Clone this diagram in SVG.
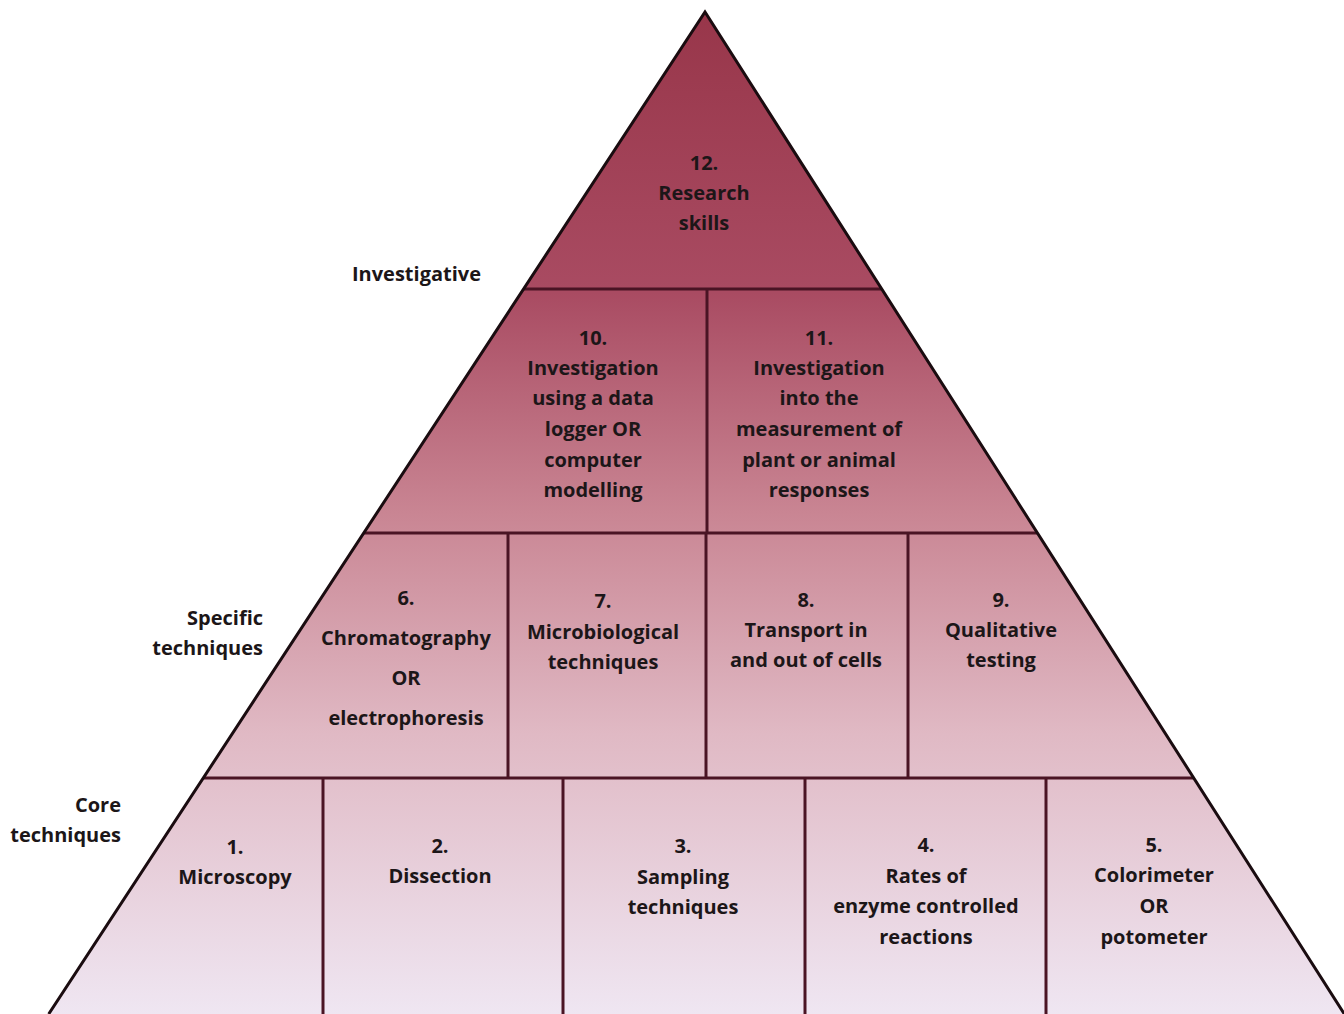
<svg xmlns="http://www.w3.org/2000/svg" width="1344" height="1014" viewBox="0 0 1344 1014">
<style>
.t{font-family:"Open Sans","Noto Sans","Liberation Sans",sans-serif;font-weight:bold;font-size:20px;fill:#1c1618;text-anchor:middle}
.lbl{font-family:"Open Sans","Noto Sans","Liberation Sans",sans-serif;font-weight:bold;font-size:20px;fill:#1c1618;text-anchor:end}
.cell{fill:url(#g);stroke:none}
.div{stroke:#4a1424;stroke-width:3;fill:none}
.edge{stroke:#1a0c10;stroke-width:3;fill:none;stroke-linejoin:miter}
</style>
<defs>
<linearGradient id="g" gradientUnits="userSpaceOnUse" x1="0" y1="12" x2="0" y2="1014">
<stop offset="0" stop-color="#98364a"/>
<stop offset="0.28" stop-color="#a94b62"/>
<stop offset="0.5" stop-color="#c98593"/>
<stop offset="0.72" stop-color="#e0b9c4"/>
<stop offset="1" stop-color="#efe6f2"/>
</linearGradient>
</defs>
<rect width="1344" height="1014" fill="#ffffff"/>

<g id="level-labels">
<text class="lbl" x="481" y="281">Investigative</text>
<text class="lbl" x="263" y="625">Specific</text>
<text class="lbl" x="263" y="655">techniques</text>
<text class="lbl" x="121" y="812">Core</text>
<text class="lbl" x="121" y="842">techniques</text>
</g>

<g id="node-12">
<polygon class="cell" points="705,12 881.7,289 523.6,289"/>
<text class="t" x="704" y="170">12.</text>
<text class="t" x="704" y="200">Research</text>
<text class="t" x="704" y="230">skills</text>
</g>

<g id="node-10">
<polygon class="cell" points="523.6,289 707,289 707,533 363.7,533"/>
<text class="t" x="593" y="345">10.</text>
<text class="t" x="593" y="375">Investigation</text>
<text class="t" x="593" y="405">using a data</text>
<text class="t" x="593" y="436">logger OR</text>
<text class="t" x="593" y="467">computer</text>
<text class="t" x="593" y="497">modelling</text>
</g>

<g id="node-11">
<polygon class="cell" points="707,289 881.7,289 1037.4,533 707,533"/>
<text class="t" x="819" y="345">11.</text>
<text class="t" x="819" y="375">Investigation</text>
<text class="t" x="819" y="405">into the</text>
<text class="t" x="819" y="436">measurement of</text>
<text class="t" x="819" y="467">plant or animal</text>
<text class="t" x="819" y="497">responses</text>
</g>

<g id="node-6">
<polygon class="cell" points="363.7,533 508,533 508,778 203.3,778"/>
<text class="t" x="406" y="605">6.</text>
<text class="t" x="406" y="645">Chromatography</text>
<text class="t" x="406" y="685">OR</text>
<text class="t" x="406" y="725">electrophoresis</text>
</g>

<g id="node-7">
<polygon class="cell" points="508,533 706,533 706,778 508,778"/>
<text class="t" x="603" y="608">7.</text>
<text class="t" x="603" y="639">Microbiological</text>
<text class="t" x="603" y="669">techniques</text>
</g>

<g id="node-8">
<polygon class="cell" points="706,533 908,533 908,778 706,778"/>
<text class="t" x="806" y="607">8.</text>
<text class="t" x="806" y="637">Transport in</text>
<text class="t" x="806" y="667">and out of cells</text>
</g>

<g id="node-9">
<polygon class="cell" points="908,533 1037.4,533 1193.7,778 908,778"/>
<text class="t" x="1001" y="607">9.</text>
<text class="t" x="1001" y="637">Qualitative</text>
<text class="t" x="1001" y="667">testing</text>
</g>

<g id="node-1">
<polygon class="cell" points="203.3,778 323,778 323,1014 48.7,1014"/>
<text class="t" x="235" y="854">1.</text>
<text class="t" x="235" y="884">Microscopy</text>
</g>

<g id="node-2">
<polygon class="cell" points="323,778 563,778 563,1014 323,1014"/>
<text class="t" x="440" y="853">2.</text>
<text class="t" x="440" y="883">Dissection</text>
</g>

<g id="node-3">
<polygon class="cell" points="563,778 805,778 805,1014 563,1014"/>
<text class="t" x="683" y="853">3.</text>
<text class="t" x="683" y="884">Sampling</text>
<text class="t" x="683" y="914">techniques</text>
</g>

<g id="node-4">
<polygon class="cell" points="805,778 1046,778 1046,1014 805,1014"/>
<text class="t" x="926" y="852">4.</text>
<text class="t" x="926" y="883">Rates of</text>
<text class="t" x="926" y="913">enzyme controlled</text>
<text class="t" x="926" y="944">reactions</text>
</g>

<g id="node-5">
<polygon class="cell" points="1046,778 1193.7,778 1344.3,1014 1046,1014"/>
<text class="t" x="1154" y="852">5.</text>
<text class="t" x="1154" y="882">Colorimeter</text>
<text class="t" x="1154" y="913">OR</text>
<text class="t" x="1154" y="944">potometer</text>
</g>

<g id="connectors">
<line class="div" x1="523.6" y1="289" x2="881.7" y2="289"/>
<line class="div" x1="363.7" y1="533" x2="1037.4" y2="533"/>
<line class="div" x1="203.3" y1="778" x2="1193.7" y2="778"/>
<line class="div" x1="707" y1="289" x2="707" y2="533"/>
<line class="div" x1="508" y1="533" x2="508" y2="778"/>
<line class="div" x1="706" y1="533" x2="706" y2="778"/>
<line class="div" x1="908" y1="533" x2="908" y2="778"/>
<line class="div" x1="323" y1="778" x2="323" y2="1014"/>
<line class="div" x1="563" y1="778" x2="563" y2="1014"/>
<line class="div" x1="805" y1="778" x2="805" y2="1014"/>
<line class="div" x1="1046" y1="778" x2="1046" y2="1014"/>
<polyline class="edge" points="48.7,1014 705,12 1344.3,1014"/>
</g>
</svg>
